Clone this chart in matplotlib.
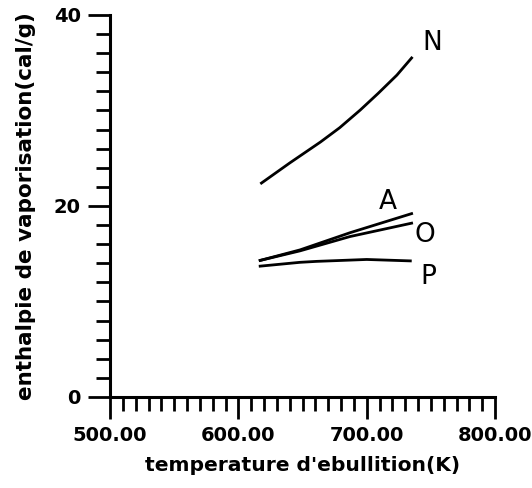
import numpy as np
import matplotlib.pyplot as plt
from matplotlib.ticker import MultipleLocator, FixedLocator

# values (boiling temperature K, enthalpy cal/g)
temp_n = [618, 640, 664, 679, 695, 709, 723.5, 735]
enth_n = [22.4, 24.5, 26.7, 28.2, 30.05, 31.8, 33.7, 35.5]

temp_a = [617, 648, 687, 735]
enth_a = [14.3, 15.4, 17.2, 19.2]

temp_o = [617, 648, 687, 735]
enth_o = [14.3, 15.3, 16.8, 18.2]

temp_p = [617, 648, 661, 700, 734]
enth_p = [13.7, 14.1, 14.2, 14.4, 14.25]

curve_names = ['N', 'A', 'O', 'P']
label_pos = [(751, 37.1), (716.5, 20.4), (745.5, 17.0), (748, 12.6)]

x_ticks = [500, 600, 700, 800]
x_tick_labels = ['500.00', '600.00', '700.00', '800.00']
y_ticks = [0, 20, 40]
y_tick_labels = ['0', '20', '40']

fig = plt.figure(figsize=(5.32, 4.88), dpi=100)
ax = fig.add_axes([0.2068, 0.1865, 0.7237, 0.7828])

for t, h in [(temp_n, enth_n), (temp_a, enth_a), (temp_o, enth_o), (temp_p, enth_p)]:
    ax.plot(t, h, color='black', lw=2)

for name, (tx, ty) in zip(curve_names, label_pos):
    ax.text(tx, ty, name, fontsize=19, ha='center', va='center', color='black')

ax.set_xlim(500, 800)
ax.set_ylim(0, 40)
ax.spines['top'].set_visible(False)
ax.spines['right'].set_visible(False)
ax.spines['left'].set_linewidth(2.2)
ax.spines['bottom'].set_linewidth(2.2)

ax.xaxis.set_major_locator(FixedLocator(x_ticks))
ax.set_xticklabels(x_tick_labels)
ax.xaxis.set_minor_locator(MultipleLocator(10))
ax.yaxis.set_major_locator(FixedLocator(y_ticks))
ax.set_yticklabels(y_tick_labels)
ax.yaxis.set_minor_locator(MultipleLocator(2))

ax.tick_params(which='major', direction='out', length=16, width=2, pad=5,
               labelsize=14)
ax.tick_params(which='minor', direction='out', length=10, width=2)
for lab in ax.get_xticklabels() + ax.get_yticklabels():
    lab.set_fontweight('bold')

ax.set_xlabel("temperature d'ebullition(K)", fontsize=14.6, fontweight='bold',
              labelpad=8)
ax.set_ylabel('enthalpie de vaporisation(cal/g)', fontsize=15.5,
              fontweight='bold', labelpad=12.5)

plt.savefig('out.png', dpi=100)
